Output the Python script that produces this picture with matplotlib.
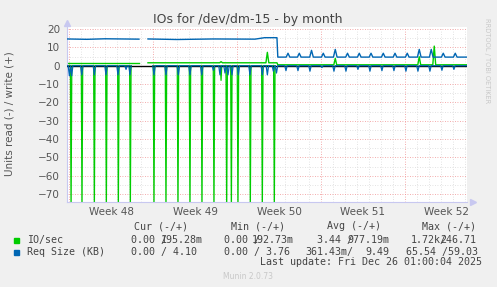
import matplotlib.pyplot as plt

# x = days since Mon 24 Nov 2025 00:00 (start of week 48)
x_start, x_end = -0.17, 33.17
week_starts = [0, 7, 14, 21, 28]
week_labels = ["Week 48", "Week 49", "Week 50", "Week 51", "Week 52"]

# data segments (there is a gap with no samples between seg A and seg B)
seg_a = (-0.17, 5.83)
seg_b = (6.58, 17.33)
seg_c = (17.40, 33.17)

# IO/sec read (plotted negative): nightly bursts, far off scale
io_read_days = [0.17, 1.08, 2.11, 3.11, 4.11, 5.11, 7.08, 8.08, 9.08, 10.08,
                11.08, 12.08, 12.67, 13.14, 13.53, 14.08, 15.11, 16.11, 17.11]
io_read_vals = [-80, -80, -80, -80, -80, -80, -80, -80, -80, -80,
                -80, -80, -8, -80, -80, -80, -80, -80, -80]

# IO/sec write: base levels and bumps
io_write_base = [(-0.17, 1.6), (5.83, 1.6), (6.58, 1.6), (17.33, 1.6),
                 (17.40, 0.5), (33.17, 0.5)]
io_write_days = [12.67, 16.53, 22.19, 29.19, 30.44]
io_write_vals = [2.2, 7.3, 4.0, 4.9, 10.7]

# Req size read (plotted negative)
rq_read_days = [0.03, 0.22, 1.06, 2.11, 3.08, 4.08, 4.75, 5.08, 7.08, 8.08,
                9.11, 10.08, 11.06, 12.03, 12.58, 13.00, 13.25, 13.58, 14.11,
                15.08, 16.11, 16.53, 17.03, 17.29,
                18.08, 19.08, 20.08, 21.08, 22.08, 23.08, 24.08, 25.08, 26.08,
                27.08, 28.08, 29.08, 30.08, 31.08, 32.08]
rq_read_vals = [-5.5, -5.5, -5, -5, -5, -5, -2, -5, -5, -5,
                -5, -5, -5, -2.5, -5, -4, -5, -5, -5,
                -5, -5, -5, -3, -4,
                -2.7, -2.7, -3, -1, -3, -3, -2, -3, -2.7,
                -2.7, -3, -3, -3, -2.5, -2]

# Req size write: level drops in week 50, then daily bumps
rq_write_base = [(-0.17, 14.6), (1.5, 14.4), (3.0, 14.7), (5.83, 14.5),
                 (6.58, 14.6), (9.0, 14.3), (12.0, 14.6), (15.5, 14.5),
                 (16.3, 15.3), (17.33, 15.3), (17.40, 4.7), (33.17, 4.7)]
rq_write_days = [18.25, 19.19, 20.21, 21.19, 22.19, 23.21, 24.19, 25.17,
                 26.19, 27.17, 28.19, 29.19, 30.19, 31.19, 32.19]
rq_write_vals = [6.8, 6.8, 8.4, 6.8, 8.9, 6.8, 6.8, 6.8,
                 6.8, 6.8, 6.8, 8.9, 8.9, 6.8, 6.8]

GREEN = '#00CC00'
BLUE = '#0066B3'
TXT = '#555555'


def base_at(knots, d):
    for (x0, y0), (x1, y1) in zip(knots[:-1], knots[1:]):
        if x0 <= d <= x1:
            return y0 + (y1 - y0) * (d - x0) / (x1 - x0) if x1 > x0 else y0
    return knots[-1][1]


def series(knots, days, vals, half, segs):
    out = []
    for s0, s1 in segs:
        pts = [(d, base_at(knots, d)) for d, _ in knots if s0 <= d <= s1]
        for d, v in zip(days, vals):
            if s0 <= d <= s1:
                pts += [(d - half, base_at(knots, d - half)), (d, v),
                        (d + half, base_at(knots, d + half))]
        pts.sort()
        out.append(([p[0] for p in pts], [p[1] for p in pts]))
    return out


zero = [(-0.17, 0.0), (33.17, 0.0)]
segs_ab = [seg_a, seg_b]
segs_all = [seg_a, (seg_b[0], seg_c[1])]

W, H = 497, 287
fig = plt.figure(figsize=(W / 100, H / 100), dpi=100, facecolor='#F0F0F0')


def fx(p):
    return p / W


def fy(p):
    return 1 - p / H


ax = fig.add_axes([fx(67), fy(201.7), 400 / W, (201.7 - 26.5) / H])
ax.set_facecolor('white')
ax.set_xlim(x_start, x_end)
ax.set_ylim(-74.2, 21.4)

# grid
dot = (0, (1, 2))
for d in range(0, 34):
    if d not in week_starts:
        ax.axvline(d, color='#D9D9D9', lw=0.6, ls=dot, zorder=0)
for d in week_starts:
    ax.axvline(d, color='#F09090', lw=0.6, ls=dot, zorder=0)
for v in range(-65, 21, 10):
    ax.axhline(v, color='#D9D9D9', lw=0.6, ls=dot, zorder=0)
for v in range(-70, 21, 10):
    if v != 0:
        ax.axhline(v, color='#F09090', lw=0.6, ls=dot, zorder=0)

# lines
for xs, ys in series(zero, io_read_days, io_read_vals, 0.06, segs_ab):
    ax.plot(xs, ys, color=GREEN, lw=0.9, zorder=2)
for xs, ys in series(io_write_base, io_write_days, io_write_vals, 0.12, segs_all):
    ax.plot(xs, ys, color=GREEN, lw=1.0, zorder=2)
ax.axhline(0, color='black', lw=1.0, zorder=3)
for xs, ys in series(zero, rq_read_days, rq_read_vals, 0.1, segs_all):
    ax.plot(xs, ys, color=BLUE, lw=0.9, zorder=4)
for xs, ys in series(rq_write_base, rq_write_days, rq_write_vals, 0.15, segs_all):
    ax.plot(xs, ys, color=BLUE, lw=1.0, zorder=4)

# axes styling
for s in ['top', 'right']:
    ax.spines[s].set_visible(False)
for s in ['left', 'bottom']:
    ax.spines[s].set_color('#C8C8F0')
    ax.spines[s].set_linewidth(0.8)
ax.plot([0], [1.02], marker='^', ms=4, color='#C8C8F0', transform=ax.transAxes,
        clip_on=False)
ax.plot([1.015], [0], marker='>', ms=4, color='#C8C8F0', transform=ax.transAxes,
        clip_on=False)

ax.set_yticks(range(-70, 21, 10))
ax.set_xticks([w + 3.5 for w in week_starts])
ax.set_xticklabels(week_labels)
ax.tick_params(axis='y', length=0, pad=5, labelsize=7.5, labelcolor=TXT)
ax.tick_params(axis='x', length=0, pad=4, labelsize=7.5, labelcolor=TXT)

# texts
fig.text(fx(248), fy(19.3), "IOs for /dev/dm-15 - by month", ha='center',
         va='center', fontsize=9, color='#444444')
fig.text(fx(10), fy(114), "Units read (-) / write (+)", rotation=90,
         ha='center', va='center', fontsize=7.5, color=TXT)
fig.text(fx(487), fy(18), "RRDTOOL / TOBI OETIKER", rotation=-90, ha='center',
         va='top', fontsize=4.8, color='#C8C8C8')

mono = dict(family='DejaVu Sans Mono', fontsize=7.2, color='#444444', va='center')
fig.text(fx(134.3), fy(226.3), "Cur (-/+)", **mono)
fig.text(fx(231), fy(226.3), "Min (-/+)", **mono)
fig.text(fx(326.7), fy(226.3), "Avg (-/+)", **mono)
fig.text(fx(422.3), fy(226.3), "Max (-/+)", **mono)

fig.patches.append(plt.Rectangle((fx(14), fy(243)), 5 / W, 5 / H,
                                 transform=fig.transFigure, color=GREEN))
fig.patches.append(plt.Rectangle((fx(14), fy(254.5)), 5 / W, 5 / H,
                                 transform=fig.transFigure, color=BLUE))
fig.text(fx(26.7), fy(240.3), "IO/sec", **mono)
fig.text(fx(26.7), fy(251.7), "Req Size (KB)", **mono)

# the reference prints these columns with overlapping glyphs, kept on purpose
row1 = [("0.00 /", 131, 'left'), ("195.28m", 203, 'right'),
        ("0.00 /", 224.3, 'left'), ("192.73m", 293.3, 'right'),
        ("3.44 /", 317.3, 'left'), ("977.19m", 389, 'right'),
        ("1.72k/", 410.7, 'left'), ("246.71", 476.7, 'right')]
row2 = [("0.00 / 4.10", 131, 'left'), ("0.00 / 3.76", 224.3, 'left'),
        ("361.43m/", 305, 'left'), ("9.49", 389, 'right'),
        ("65.54 /59.03", 405.7, 'left')]
for s, x, ha in row1:
    fig.text(fx(x), fy(240.3), s, ha=ha, **mono)
for s, x, ha in row2:
    fig.text(fx(x), fy(251.7), s, ha=ha, **mono)

fig.text(fx(482), fy(262.3), "Last update: Fri Dec 26 01:00:04 2025",
         ha='right', **mono)
fig.text(fx(248), fy(276.3), "Munin 2.0.73", ha='center', va='center',
         fontsize=5.5, color='#C8C8C8')

fig.savefig('out.png', dpi=100, facecolor=fig.get_facecolor())
